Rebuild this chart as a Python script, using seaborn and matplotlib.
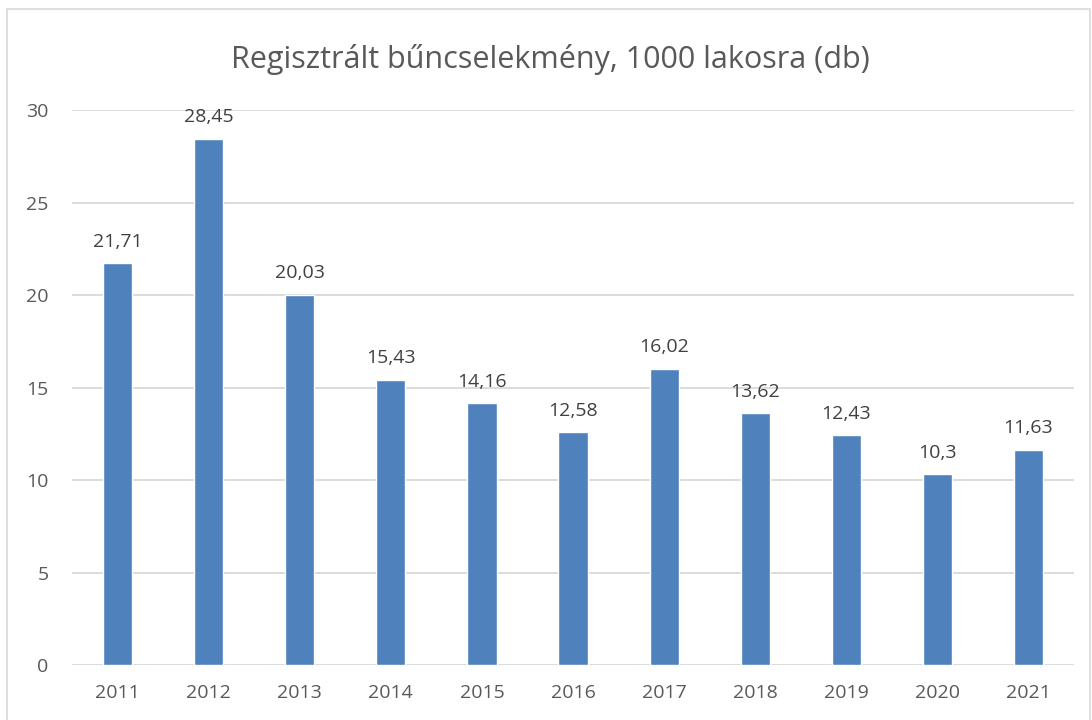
import matplotlib
matplotlib.use("Agg")
import matplotlib.pyplot as plt
import seaborn as sns
import pandas as pd
from matplotlib.patches import Rectangle

# === Data ===
years = ["2011", "2012", "2013", "2014", "2015", "2016", "2017", "2018", "2019", "2020", "2021"]
values = [21.71, 28.45, 20.03, 15.43, 14.16, 12.58, 16.02, 13.62, 12.43, 10.3, 11.63]
value_labels = ["21,71", "28,45", "20,03", "15,43", "14,16", "12,58", "16,02", "13,62", "12,43", "10,3", "11,63"]

df = pd.DataFrame({"Év": years, "Érték": values})

sns.set_theme(style="white")
plt.rcParams["font.family"] = ["Open Sans", "DejaVu Sans"]

fig = plt.figure(figsize=(10.92, 7.2), dpi=100)
ax = fig.add_axes([0.066, 0.0764, 0.9175, 0.7706])

sns.barplot(data=df, x="Év", y="Érték", color="#4F81BD", width=0.32,
            saturation=1, ax=ax)

ax.set_ylim(0, 30)
ax.set_yticks(range(0, 31, 5))
ax.set_xlim(-0.5, len(years) - 0.5)
ax.yaxis.grid(True, color="#D9D9D9", linewidth=1.3)
ax.set_axisbelow(True)
for s in ax.spines.values():
    s.set_visible(False)
ax.set_xlabel("")
ax.set_ylabel("")
ax.tick_params(axis="both", length=0, labelsize=14, colors="#595959")
ax.tick_params(axis="y", pad=17)
ax.tick_params(axis="x", pad=14)

for i, (v, lab) in enumerate(zip(values, value_labels)):
    ax.annotate(lab, (i, v), xytext=(0, 9), textcoords="offset points",
                ha="center", va="bottom", fontsize=14, color="#404040")

fig.text(0.504, 0.918, "Regisztrált bűncselekmény, 1000 lakosra (db)",
         ha="center", va="center", fontsize=22, color="#595959")

# chart border
fig.patches.append(Rectangle((0.0064, -0.01), 0.992, 0.998, transform=fig.transFigure,
                             fill=False, edgecolor="#D9D9D9", linewidth=1.2))

fig.savefig("out.png", dpi=100)
